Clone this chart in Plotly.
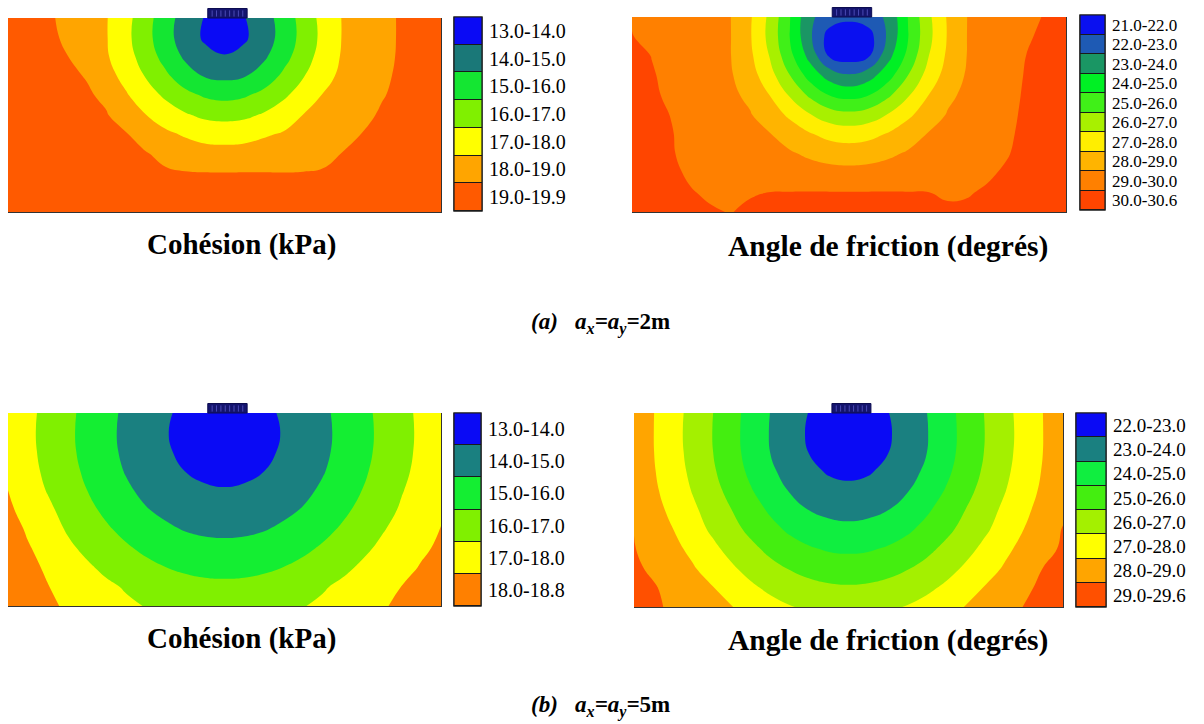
import plotly.graph_objects as go

# ---------------- data ----------------
X_M = list(range(-11, 12))      # horizontal position (m), footing centre at 0
DEPTH_M = list(range(0, 11))    # depth below surface (m)

COHESION_A = [
    [19.6, 19.4, 19.1, 18.85, 18.45, 18.05, 17.3, 16.4, 15.4, 14.6, 13.95, 13.5, 13.95, 14.6, 15.4, 16.4, 17.3, 18.05, 18.4, 18.75, 19.1, 19.3, 19.55],
    [19.6, 19.35, 19.15, 18.9, 18.45, 18.05, 17.25, 16.35, 15.35, 14.55, 13.85, 13.3, 13.85, 14.55, 15.35, 16.35, 17.25, 18.05, 18.4, 18.75, 19.1, 19.3, 19.55],
    [19.6, 19.4, 19.2, 19.02, 18.6, 18.1, 17.4, 16.55, 15.65, 14.85, 14.3, 14.1, 14.3, 14.85, 15.65, 16.55, 17.4, 18.1, 18.45, 18.8, 19.1, 19.35, 19.55],
    [19.7, 19.5, 19.35, 19.15, 18.96, 18.35, 17.7, 16.95, 16.2, 15.45, 14.95, 14.8, 14.95, 15.45, 16.2, 16.95, 17.7, 18.2, 18.55, 18.85, 19.15, 19.35, 19.6],
    [19.75, 19.55, 19.4, 19.25, 19.1, 18.85, 18.1, 17.45, 16.85, 16.3, 15.9, 15.75, 15.9, 16.3, 16.85, 17.45, 18.05, 18.35, 18.65, 18.95, 19.2, 19.4, 19.65],
    [19.8, 19.65, 19.5, 19.35, 19.2, 19.05, 18.6, 18.02, 17.5, 17.1, 16.8, 16.7, 16.8, 17.1, 17.5, 18.02, 18.25, 18.55, 18.8, 19.1, 19.3, 19.5, 19.7],
    [19.85, 19.7, 19.55, 19.4, 19.3, 19.15, 19.05, 18.65, 18.2, 17.9, 17.65, 17.6, 17.65, 17.9, 18.1, 18.3, 18.5, 18.8, 19.02, 19.2, 19.4, 19.6, 19.75],
    [19.9, 19.75, 19.6, 19.5, 19.4, 19.25, 19.15, 19.05, 18.8, 18.55, 18.4, 18.35, 18.4, 18.45, 18.5, 18.65, 18.85, 19.02, 19.15, 19.3, 19.45, 19.6, 19.8],
    [19.9, 19.75, 19.6, 19.5, 19.4, 19.3, 19.2, 19.15, 19.1, 19.05, 19.03, 19.02, 19.03, 19.03, 19.02, 19.03, 19.05, 19.15, 19.25, 19.35, 19.5, 19.65, 19.8],
    [19.9, 19.8, 19.7, 19.6, 19.5, 19.45, 19.4, 19.3, 19.25, 19.2, 19.2, 19.2, 19.2, 19.2, 19.2, 19.25, 19.3, 19.35, 19.4, 19.5, 19.6, 19.7, 19.85],
    [19.9, 19.85, 19.8, 19.7, 19.6, 19.55, 19.5, 19.45, 19.4, 19.35, 19.35, 19.35, 19.35, 19.35, 19.4, 19.4, 19.45, 19.5, 19.55, 19.6, 19.7, 19.8, 19.9],
]

FRICTION_A = [
    [29.95, 29.76, 29.57, 29.38, 29.19, 29.01, 28.1, 26.75, 25.04, 23.2, 22.5, 22.3, 22.5, 23.2, 25.04, 26.75, 28.1, 29.01, 29.28, 29.55, 29.82, 30.06, 30.26],
    [30.02, 29.82, 29.61, 29.41, 29.2, 29.02, 28.07, 26.68, 24.98, 23.2, 21.6, 21.05, 21.6, 23.2, 24.98, 26.68, 28.07, 29.02, 29.31, 29.62, 29.92, 30.15, 30.35],
    [30.17, 29.99, 29.75, 29.5, 29.26, 29.02, 28.18, 26.93, 25.29, 23.7, 21.9, 21.5, 21.9, 23.7, 25.29, 26.93, 28.18, 29.03, 29.36, 29.69, 30.01, 30.21, 30.41],
    [30.24, 30.04, 29.87, 29.61, 29.35, 29.09, 28.42, 27.36, 26.02, 24.62, 23.6, 23.1, 23.6, 24.62, 26.02, 27.36, 28.42, 29.11, 29.43, 29.76, 30.05, 30.24, 30.44],
    [30.29, 30.1, 29.88, 29.64, 29.4, 29.17, 28.81, 27.97, 26.9, 25.82, 24.98, 24.69, 24.98, 25.82, 26.9, 27.97, 28.81, 29.21, 29.51, 29.81, 30.08, 30.27, 30.46],
    [30.35, 30.16, 29.98, 29.74, 29.5, 29.28, 29.05, 28.48, 27.81, 27.05, 26.45, 26.23, 26.45, 27.05, 27.81, 28.48, 29.06, 29.33, 29.6, 29.87, 30.1, 30.29, 30.47],
    [30.39, 30.21, 30.03, 29.78, 29.55, 29.36, 29.18, 29.03, 28.55, 28.08, 27.7, 27.55, 27.7, 28.08, 28.55, 29.04, 29.22, 29.42, 29.65, 29.9, 30.15, 30.34, 30.53],
    [30.46, 30.25, 30.05, 29.8, 29.63, 29.46, 29.32, 29.24, 29.11, 28.83, 28.59, 28.51, 28.59, 28.83, 29.11, 29.25, 29.39, 29.57, 29.75, 29.96, 30.19, 30.39, 30.59],
    [30.52, 30.31, 30.1, 29.92, 29.75, 29.62, 29.54, 29.58, 29.5, 29.42, 29.35, 29.31, 29.35, 29.42, 29.52, 29.56, 29.62, 29.75, 29.92, 30.08, 30.24, 30.43, 30.6],
    [30.54, 30.36, 30.19, 30.03, 29.92, 29.85, 29.95, 30.01, 30.02, 30.03, 30.03, 30.03, 30.03, 30.03, 30.02, 30.01, 29.93, 29.96, 30.07, 30.19, 30.35, 30.5, 30.6],
    [30.55, 30.42, 30.28, 30.14, 30.05, 29.98, 30.11, 30.13, 30.17, 30.18, 30.19, 30.19, 30.19, 30.18, 30.17, 30.14, 30.09, 30.1, 30.2, 30.31, 30.45, 30.55, 30.6],
]

COHESION_B = [
    [17.76, 17.24, 16.73, 16.23, 15.74, 15.26, 14.83, 14.47, 14.12, 13.79, 13.5, 13.35, 13.5, 13.79, 14.12, 14.47, 14.83, 15.26, 15.74, 16.23, 16.73, 17.19, 17.6],
    [17.74, 17.21, 16.7, 16.2, 15.71, 15.22, 14.8, 14.43, 14.06, 13.7, 13.35, 13.0, 13.35, 13.7, 14.06, 14.43, 14.8, 15.22, 15.71, 16.2, 16.7, 17.17, 17.58],
    [17.76, 17.24, 16.73, 16.23, 15.74, 15.26, 14.83, 14.47, 14.12, 13.79, 13.5, 13.35, 13.5, 13.79, 14.12, 14.47, 14.83, 15.26, 15.74, 16.23, 16.73, 17.19, 17.6],
    [17.86, 17.32, 16.81, 16.33, 15.84, 15.38, 14.94, 14.6, 14.28, 13.99, 13.79, 13.7, 13.79, 13.99, 14.28, 14.6, 14.94, 15.38, 15.84, 16.33, 16.81, 17.25, 17.66],
    [18.0, 17.5, 16.95, 16.47, 16.01, 15.57, 15.14, 14.79, 14.52, 14.28, 14.12, 14.06, 14.12, 14.28, 14.52, 14.79, 15.14, 15.57, 16.01, 16.47, 16.95, 17.35, 17.75],
    [18.12, 17.75, 17.2, 16.67, 16.23, 15.81, 15.41, 15.05, 14.8, 14.6, 14.47, 14.43, 14.47, 14.6, 14.8, 15.05, 15.41, 15.81, 16.23, 16.67, 17.1, 17.49, 17.88],
    [18.25, 17.93, 17.4, 16.92, 16.5, 16.11, 15.74, 15.41, 15.14, 14.94, 14.83, 14.8, 14.83, 14.94, 15.14, 15.41, 15.74, 16.11, 16.5, 16.92, 17.29, 17.66, 18.02],
    [18.35, 18.05, 17.8, 17.18, 16.81, 16.45, 16.11, 15.81, 15.57, 15.38, 15.26, 15.22, 15.26, 15.38, 15.57, 15.81, 16.11, 16.45, 16.81, 17.17, 17.51, 17.86, 18.14],
    [18.45, 18.2, 17.9, 17.43, 17.13, 16.81, 16.5, 16.23, 16.01, 15.84, 15.74, 15.71, 15.74, 15.84, 16.01, 16.23, 16.5, 16.81, 17.13, 17.43, 17.75, 18.06, 18.28],
    [18.55, 18.3, 18.03, 17.75, 17.4, 17.16, 16.92, 16.67, 16.47, 16.33, 16.23, 16.2, 16.23, 16.33, 16.47, 16.67, 16.92, 17.17, 17.43, 17.71, 18.01, 18.22, 18.43],
    [18.6, 18.4, 18.15, 17.9, 17.67, 17.45, 17.15, 16.97, 16.9, 16.81, 16.73, 16.7, 16.73, 16.81, 16.9, 16.97, 17.15, 17.45, 17.7, 17.95, 18.1, 18.3, 18.5],
]

FRICTION_B = [
    [28.47, 28.02, 27.36, 26.7, 26.04, 25.34, 24.65, 23.98, 23.46, 22.96, 22.59, 22.39, 22.59, 22.96, 23.46, 23.98, 24.65, 25.34, 26.04, 26.7, 27.36, 28.02, 28.55],
    [28.45, 28.01, 27.33, 26.67, 26.01, 25.29, 24.64, 23.94, 23.4, 22.88, 22.44, 22.0, 22.44, 22.88, 23.4, 23.94, 24.64, 25.29, 26.01, 26.67, 27.33, 28.01, 28.53],
    [28.47, 28.02, 27.36, 26.7, 26.04, 25.34, 24.65, 23.98, 23.46, 22.96, 22.59, 22.39, 22.59, 22.96, 23.46, 23.98, 24.65, 25.34, 26.04, 26.7, 27.36, 28.02, 28.55],
    [28.52, 28.07, 27.45, 26.79, 26.15, 25.47, 24.8, 24.16, 23.65, 23.22, 22.9, 22.79, 22.9, 23.22, 23.65, 24.16, 24.8, 25.47, 26.15, 26.79, 27.45, 28.08, 28.6],
    [28.6, 28.16, 27.59, 26.95, 26.33, 25.71, 25.06, 24.48, 23.94, 23.57, 23.31, 23.22, 23.31, 23.57, 23.94, 24.48, 25.06, 25.71, 26.33, 26.95, 27.59, 28.18, 28.69],
    [28.71, 28.28, 27.8, 27.18, 26.61, 26.01, 25.41, 24.86, 24.38, 23.98, 23.77, 23.7, 23.77, 23.98, 24.38, 24.86, 25.41, 26.01, 26.61, 27.18, 27.8, 28.33, 28.82],
    [28.98, 28.43, 28.01, 27.42, 26.85, 26.31, 25.77, 25.27, 24.84, 24.52, 24.3, 24.22, 24.3, 24.52, 24.84, 25.27, 25.77, 26.31, 26.85, 27.42, 28.01, 28.49, 29.05],
    [29.04, 28.64, 28.25, 27.78, 27.23, 26.7, 26.22, 25.76, 25.37, 25.09, 24.9, 24.84, 24.9, 25.09, 25.37, 25.76, 26.22, 26.7, 27.23, 27.78, 28.28, 28.75, 29.11],
    [29.14, 28.86, 28.47, 28.09, 27.61, 27.13, 26.67, 26.27, 25.94, 25.69, 25.52, 25.46, 25.52, 25.69, 25.94, 26.27, 26.67, 27.13, 27.61, 28.09, 28.54, 29.02, 29.21],
    [29.27, 29.07, 28.75, 28.39, 28.05, 27.59, 27.16, 26.79, 26.49, 26.27, 26.14, 26.09, 26.14, 26.27, 26.49, 26.79, 27.16, 27.59, 28.05, 28.45, 28.87, 29.14, 29.35],
    [29.32, 29.12, 28.88, 28.65, 28.33, 28.03, 27.67, 27.33, 27.05, 26.85, 26.73, 26.69, 26.73, 26.85, 27.05, 27.33, 27.67, 28.03, 28.33, 28.75, 29.02, 29.22, 29.42],
]

COHESION_A_LABELS = ["13.0-14.0", "14.0-15.0", "15.0-16.0", "16.0-17.0", "17.0-18.0", "18.0-19.0", "19.0-19.9"]
FRICTION_A_LABELS = ["21.0-22.0", "22.0-23.0", "23.0-24.0", "24.0-25.0", "25.0-26.0", "26.0-27.0",
                     "27.0-28.0", "28.0-29.0", "29.0-30.0", "30.0-30.6"]
COHESION_B_LABELS = ["13.0-14.0", "14.0-15.0", "15.0-16.0", "16.0-17.0", "17.0-18.0", "18.0-18.8"]
FRICTION_B_LABELS = ["22.0-23.0", "23.0-24.0", "24.0-25.0", "25.0-26.0", "26.0-27.0", "27.0-28.0",
                     "28.0-29.0", "29.0-29.6"]

# first and last contour level of each map
COHESION_A_LEVELS = (14, 19)
FRICTION_A_LEVELS = (22, 30)
COHESION_B_LEVELS = (14, 18)
FRICTION_B_LEVELS = (23, 29)

COHESION_A_COLORS = ["#0a0af5", "#1a7878", "#14e632", "#80f000", "#ffff00", "#ffa500", "#ff5a00"]
FRICTION_A_COLORS = ["#0a10f0", "#1e5ab4", "#1a9664", "#00f024", "#40f018", "#a8f000", "#ffee00",
                     "#ffb400", "#ff8000", "#ff4500"]
COHESION_B_COLORS = ["#0a0af5", "#1a8080", "#14ee32", "#80f000", "#ffff00", "#ff8000"]
FRICTION_B_COLORS = ["#0a0af5", "#1a8080", "#10ee40", "#44ee10", "#a4f000", "#ffff00", "#ffa500", "#ff5000"]

TITLE_COHESION = "<b>Cohésion (kPa)</b>"
TITLE_FRICTION = "<b>Angle de friction (degrés)</b>"
CAPTION_A = "<b><i>(a)\u00a0\u00a0 a<sub>x</sub>=a<sub>y</sub>=</i>2m</b>"
CAPTION_B = "<b><i>(b)\u00a0\u00a0 a<sub>x</sub>=a<sub>y</sub>=</i>5m</b>"

FOOTING_CENTER = 0.15
FOOTING_HALF_WIDTH = 1.0

# ---------------- layout geometry (pixels of the 1204x724 page) ----------------
W, H = 1204, 724
SERIF = "Liberation Serif"

def xdom(a, b):
    return [a / W, b / W]

def ydom(top, bottom):
    return [(H - bottom) / H, (H - top) / H]

panels = [
    # z, colors, labels, levels, map box (x0,x1,top,bottom), legend box, legend font size
    (COHESION_A, COHESION_A_COLORS, COHESION_A_LABELS, COHESION_A_LEVELS, (8, 441, 18, 212), (454, 482, 17, 211), 20),
    (FRICTION_A, FRICTION_A_COLORS, FRICTION_A_LABELS, FRICTION_A_LEVELS, (632, 1066, 17, 212), (1080, 1105, 15, 210), 17),
    (COHESION_B, COHESION_B_COLORS, COHESION_B_LABELS, COHESION_B_LEVELS, (8, 441, 413, 606), (454, 481, 413, 606), 20),
    (FRICTION_B, FRICTION_B_COLORS, FRICTION_B_LABELS, FRICTION_B_LEVELS, (634, 1063, 413, 607), (1076, 1106, 413, 607), 19),
]

fig = go.Figure()
layout = dict(width=W, height=H, margin=dict(l=0, r=0, t=0, b=0),
              paper_bgcolor="white", plot_bgcolor="white", showlegend=False,
              font=dict(family=SERIF, color="black"))
shapes = []

for k, (z, colors, labels, levels, mbox, lbox, lfs) in enumerate(panels):
    n = len(colors)
    cscale = [[i / (n - 1), c] for i, c in enumerate(colors)]
    ia, ib = 2 * k + 1, 2 * k + 2
    xa, ya = ("x" if ia == 1 else f"x{ia}"), ("y" if ia == 1 else f"y{ia}")
    xb, yb = f"x{ib}", f"y{ib}"

    fig.add_trace(go.Contour(
        x=X_M, y=DEPTH_M, z=z, xaxis=xa, yaxis=ya,
        colorscale=cscale, autocontour=False,
        contours=dict(start=levels[0], end=levels[1], size=1, coloring="fill", showlines=False),
        line=dict(width=0, smoothing=1.3), showscale=False, hoverinfo="skip"))

    fig.add_trace(go.Heatmap(
        x=[0], y=labels, z=[[i] for i in range(n)], xaxis=xb, yaxis=yb,
        colorscale=cscale, zmin=0, zmax=n - 1, showscale=False, ygap=1, hoverinfo="skip"))

    axa = "xaxis" if ia == 1 else f"xaxis{ia}"
    aya = "yaxis" if ia == 1 else f"yaxis{ia}"
    layout[axa] = dict(domain=xdom(mbox[0], mbox[1]), range=[X_M[0], X_M[-1]], anchor=ya,
                       showgrid=False, zeroline=False, showticklabels=False, ticks="",
                       showline=True, linecolor="#333333", linewidth=1)
    layout[aya] = dict(domain=ydom(mbox[2], mbox[3]), range=[DEPTH_M[-1], DEPTH_M[0]], anchor=xa,
                       side="right", showgrid=False, zeroline=False, showticklabels=False, ticks="",
                       showline=True, linecolor="#333333", linewidth=1)
    layout[f"xaxis{ib}"] = dict(domain=xdom(lbox[0], lbox[1]), anchor=yb, visible=False,
                                range=[-0.5, 0.5])
    layout[f"yaxis{ib}"] = dict(domain=ydom(lbox[2], lbox[3]), anchor=xb, side="right",
                                autorange="reversed", showgrid=False, zeroline=False, ticks="",
                                tickmode="array", tickvals=labels, ticktext=labels,
                                ticklabelstandoff=6,
                                tickfont=dict(family=SERIF, size=lfs, color="black"),
                                showline=False)
    # black frame / cell separators of the legend
    shapes.append(dict(type="rect", xref=f"{xb} domain", yref=f"{yb} domain", x0=0, x1=1, y0=0, y1=1,
                       fillcolor="#1a1a1a", line=dict(color="#1a1a1a", width=1.2), layer="below"))
    shapes.append(dict(type="rect", xref=f"{xb} domain", yref=f"{yb} domain", x0=0, x1=1, y0=0, y1=1,
                       fillcolor="rgba(0,0,0,0)", line=dict(color="#1a1a1a", width=1.2), layer="above"))

    # footing on the surface
    span = X_M[-1] - X_M[0]
    fx0 = (FOOTING_CENTER - FOOTING_HALF_WIDTH - X_M[0]) / span
    fx1 = (FOOTING_CENTER + FOOTING_HALF_WIDTH - X_M[0]) / span
    fh = 9.5 / (mbox[3] - mbox[2])
    shapes.append(dict(type="rect", xref=f"{xa} domain", yref=f"{ya} domain", x0=fx0, x1=fx1,
                       y0=1.0, y1=1.0 + fh, fillcolor="#14146e", line=dict(color="#0c0c50", width=1)))
    nh = 9
    for j in range(1, nh):
        hx = fx0 + (fx1 - fx0) * j / nh
        shapes.append(dict(type="line", xref=f"{xa} domain", yref=f"{ya} domain", x0=hx, x1=hx,
                           y0=1.0 + fh * 0.15, y1=1.0 + fh * 0.8,
                           line=dict(color="#4a4ab4", width=1)))

layout["shapes"] = shapes

def ann(text, xc, yc, size):
    return dict(text=text, x=xc / W, y=1 - yc / H, xref="paper", yref="paper",
                xanchor="center", yanchor="middle", showarrow=False,
                font=dict(family=SERIF, size=size, color="black"))

layout["annotations"] = [
    ann(TITLE_COHESION, 241, 244, 29),
    ann(TITLE_FRICTION, 888, 246, 29.5),
    ann(CAPTION_A, 600, 323, 23),
    ann(TITLE_COHESION, 241, 638, 29),
    ann(TITLE_FRICTION, 888, 640, 29.5),
    ann(CAPTION_B, 600, 706, 23),
]

fig.update_layout(**layout)
fig.write_html("out.html")
